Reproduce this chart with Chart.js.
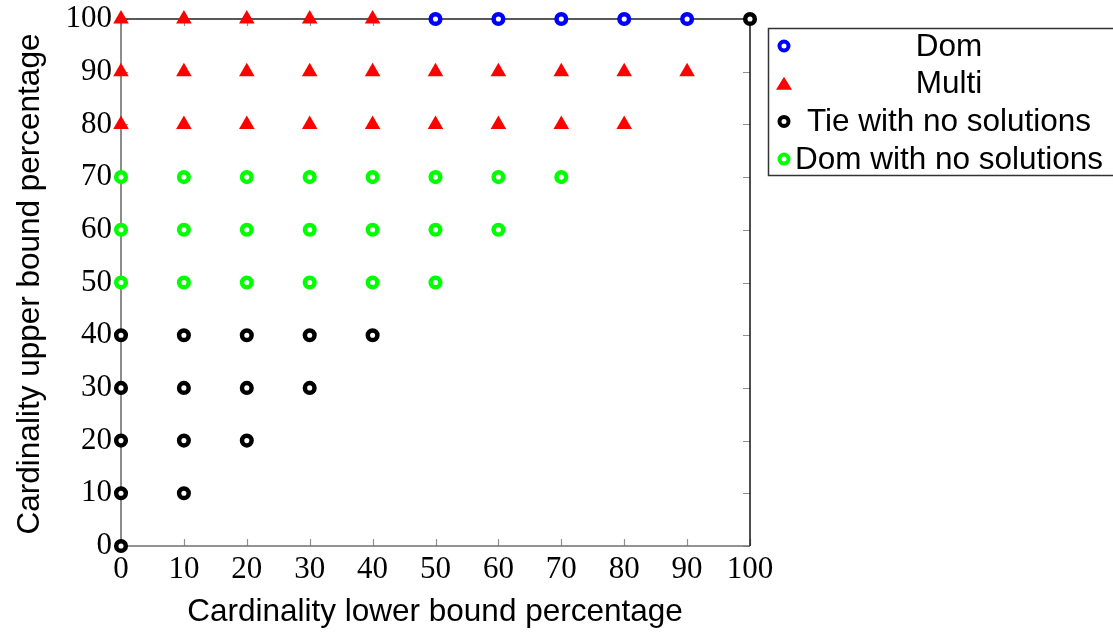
<!DOCTYPE html>
<html>
<head>
<meta charset="utf-8">
<script src="https://cdn.jsdelivr.net/npm/chart.js@4.4.0/dist/chart.umd.min.js"></script>
<style>
  html, body { margin: 0; padding: 0; background: #fff; }
  #wrap { width: 1113px; height: 633px; }
</style>
</head>
<body>
<div id="wrap"><canvas id="chart" width="1113" height="633"></canvas></div>
<script>
// Data: [lower bound %, upper bound %]
const domPoints = [[50,100],[60,100],[70,100],[80,100],[90,100]];
const multiPoints = [
    [0,100],[10,100],[20,100],[30,100],[40,100],
    [0,90],[10,90],[20,90],[30,90],[40,90],[50,90],[60,90],[70,90],[80,90],[90,90],
    [0,80],[10,80],[20,80],[30,80],[40,80],[50,80],[60,80],[70,80],[80,80]
];
const tiePoints = [
    [0,0],
    [0,10],[10,10],
    [0,20],[10,20],[20,20],
    [0,30],[10,30],[20,30],[30,30],
    [0,40],[10,40],[20,40],[30,40],[40,40],
    [100,100]
];
const domNoSolPoints = [
    [0,50],[10,50],[20,50],[30,50],[40,50],[50,50],
    [0,60],[10,60],[20,60],[30,60],[40,60],[50,60],[60,60],
    [0,70],[10,70],[20,70],[30,70],[40,70],[50,70],[60,70],[70,70]
];
const tickValues = [0,10,20,30,40,50,60,70,80,90,100];

const serifFont = "'Liberation Serif', 'DejaVu Serif', serif";
const sansFont = "'Liberation Sans', Arial, sans-serif";

const toXY = pts => pts.map(p => ({ x: p[0], y: p[1] }));

function circleSet(label, pts, color) {
    return {
        label: label,
        data: toXY(pts),
        pointStyle: 'circle',
        pointRadius: 4.8,
        pointBorderWidth: 4.5,
        borderColor: color,
        backgroundColor: '#fff',
        pointBackgroundColor: '#fff',
        clip: false
    };
}

// inward ticks, frame and axis titles
const framePlugin = {
    id: 'frame',
    beforeDatasetsDraw(chart) {
        const { ctx, chartArea: a, scales } = chart;
        ctx.save();
        ctx.lineWidth = 1.2;
        ctx.strokeStyle = '#909090';
        tickValues.forEach(v => {
            const x = Math.round(scales.x.getPixelForValue(v)) + 0.5;
            const y = Math.round(scales.y.getPixelForValue(v)) + 0.5;
            ctx.beginPath();
            ctx.moveTo(x, a.bottom); ctx.lineTo(x, a.bottom - 7);
            ctx.moveTo(x, a.top); ctx.lineTo(x, a.top + 7);
            ctx.moveTo(a.left, y); ctx.lineTo(a.left + 7, y);
            ctx.moveTo(a.right, y); ctx.lineTo(a.right - 7, y);
            ctx.stroke();
        });
        ctx.lineWidth = 1.6;
        ctx.strokeStyle = '#707070';
        ctx.beginPath();
        ctx.moveTo(a.left, a.top); ctx.lineTo(a.left, a.bottom); ctx.lineTo(a.right, a.bottom);
        ctx.stroke();
        ctx.strokeStyle = '#222';
        ctx.beginPath();
        ctx.moveTo(a.left, a.top); ctx.lineTo(a.right, a.top); ctx.lineTo(a.right, a.bottom);
        ctx.stroke();

        ctx.fillStyle = '#000';
        ctx.font = '31.5px ' + sansFont;
        ctx.textAlign = 'center';
        ctx.textBaseline = 'middle';
        ctx.fillText('Cardinality lower bound percentage', 435, 612);
        ctx.translate(30, 284);
        ctx.rotate(-Math.PI / 2);
        ctx.fillText('Cardinality upper bound percentage', 0, 0);
        ctx.restore();
    },
    afterDraw(chart) {
        // legend box drawn from the datasets
        const { ctx } = chart;
        const box = { left: 768, top: 28, width: 360, height: 147 };
        ctx.save();
        ctx.fillStyle = '#fff';
        ctx.fillRect(box.left, box.top, box.width, box.height);
        ctx.strokeStyle = '#333';
        ctx.lineWidth = 1.5;
        ctx.strokeRect(box.left + 0.5, box.top + 0.5, box.width, box.height);
        ctx.font = '31.5px ' + sansFont;
        ctx.textBaseline = 'middle';
        ctx.textAlign = 'center';
        chart.data.datasets.forEach((ds, i) => {
            const y = box.top + 18 + i * 37.7;
            const mx = box.left + 16;
            ctx.beginPath();
            if (ds.pointStyle === 'triangle') {
                ctx.fillStyle = ds.pointBackgroundColor;
                ctx.moveTo(mx, y - 7); ctx.lineTo(mx + 8, y + 6); ctx.lineTo(mx - 8, y + 6);
                ctx.closePath();
                ctx.fill();
            } else {
                ctx.lineWidth = 4;
                ctx.strokeStyle = ds.borderColor;
                ctx.arc(mx, y, 4.5, 0, Math.PI * 2);
                ctx.stroke();
            }
            ctx.fillStyle = '#000';
            ctx.fillText(ds.label, 949, y + 1);
        });
        ctx.restore();
    }
};

new Chart(document.getElementById('chart'), {
    type: 'scatter',
    data: {
        datasets: [
            circleSet('Dom', domPoints, '#0000ff'),
            {
                label: 'Multi',
                data: toXY(multiPoints),
                pointStyle: 'triangle',
                pointRadius: 9,
                pointBorderWidth: 0,
                borderColor: '#ff0000',
                backgroundColor: '#ff0000',
                pointBackgroundColor: '#ff0000',
                clip: false
            },
            circleSet('Tie with no solutions', tiePoints, '#000000'),
            circleSet('Dom with no solutions', domNoSolPoints, '#00ff00')
        ]
    },
    options: {
        responsive: false,
        animation: false,
        layout: { padding: { top: 19, right: 363, left: 0, bottom: 0 } },
        plugins: { legend: { display: false }, tooltip: { enabled: false } },
        scales: {
            x: {
                type: 'linear', min: 0, max: 100,
                afterBuildTicks: s => { s.ticks = tickValues.map(v => ({ value: v })); },
                afterFit: s => { s.height = 87; s.paddingLeft = 0; s.paddingRight = 0; },
                grid: { display: false, drawTicks: false },
                border: { display: false },
                ticks: { color: '#000', font: { family: serifFont, size: 31 }, padding: 5, maxRotation: 0 }
            },
            y: {
                type: 'linear', min: 0, max: 100,
                afterBuildTicks: s => { s.ticks = tickValues.map(v => ({ value: v })); },
                afterFit: s => { s.width = 121; s.paddingTop = 0; s.paddingBottom = 0; },
                grid: { display: false, drawTicks: false },
                border: { display: false },
                ticks: { color: '#000', font: { family: serifFont, size: 31 }, padding: 9 }
            }
        }
    },
    plugins: [framePlugin]
});
</script>
</body>
</html>
